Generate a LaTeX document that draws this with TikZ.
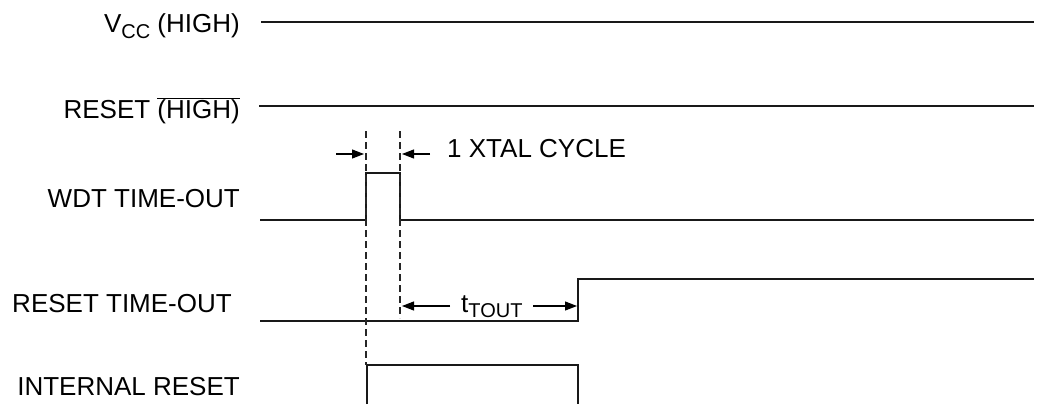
\documentclass[tikz,border=0pt]{standalone}
\usepackage{fontspec}
\setmainfont{Liberation Sans}
\usetikzlibrary{arrows.meta}
\begin{document}
\begin{tikzpicture}[x=1pt,y=-1pt,
  lbl/.style={inner sep=0pt,anchor=base east,font=\fontsize{26}{28}\selectfont},
  sig/.style={line width=1.8pt,line join=miter,draw=black!90},
  guide/.style={line width=1.2pt,dash pattern=on 7pt off 4pt,draw=black!85},
  dim/.style={line width=1.1pt,-{Triangle[length=12pt,width=9pt]}}]
\useasboundingbox (0,0) rectangle (1038,404);
% labels
\node[lbl] (vcc) at (240,33) {V\raisebox{-0.2em}{\fontsize{20}{21}\selectfont CC} (HIGH)};
\node[lbl] (rst) at (240,118) {RESET $\overline{\mbox{(HIGH)}}$};
\node[lbl] (wdt) at (240,207) {WDT TIME-OUT};
\node[lbl] (rto) at (232,312) {RESET TIME-OUT};
\node[lbl] (irs) at (240,395) {INTERNAL RESET};
% signals
\coordinate (v0) at (261,22); \coordinate (v1) at (1034,22);
\draw[sig] (v0) -- (v1);
\coordinate (r0) at (259,106); \coordinate (r1) at (1034,106);
\draw[sig] (r0) -- (r1);
\coordinate (w0) at (260,220); \coordinate (w1) at (366,220); \coordinate (w2) at (366,173);
\coordinate (w3) at (400,173); \coordinate (w4) at (400,220); \coordinate (w5) at (1034,220);
\draw[sig] (w0) -- (w1) -- (w2) -- (w3) -- (w4) -- (w5);
\coordinate (t0) at (260,321); \coordinate (t1) at (578,321); \coordinate (t2) at (578,279); \coordinate (t3) at (1034,279);
\draw[sig] (t0) -- (t1) -- (t2) -- (t3);
\coordinate (i0) at (367,404); \coordinate (i1) at (367,365); \coordinate (i2) at (578,365); \coordinate (i3) at (578,404);
\draw[sig] (i0) -- (i1) -- (i2) -- (i3);
% guides
\coordinate (g1a) at (366,131); \coordinate (g1b) at (366,365);
\coordinate (g2a) at (400,131); \coordinate (g2b) at (400,318);
\draw[guide] (g1a) -- (g1b);
\draw[guide] (g2a) -- (g2b);
% 1 XTAL CYCLE
\coordinate (a1s) at (336,154); \coordinate (a1e) at (364,154);
\coordinate (a2s) at (430,154); \coordinate (a2e) at (402,154);
\draw[dim] (a1s) -- (a1e);
\draw[dim] (a2s) -- (a2e);
\node[inner sep=0pt,anchor=base west,font=\fontsize{26}{28}\selectfont] (xtal) at (447,157) {1 XTAL CYCLE};
% tTOUT
\node[inner sep=0pt,anchor=base west,font=\fontsize{26}{28}\selectfont] (tout) at (461,312) {t\raisebox{-0.22em}{\fontsize{20}{21}\selectfont TOUT}};
\coordinate (b1s) at (450,306); \coordinate (b1e) at (402,306);
\coordinate (b2s) at (533,306); \coordinate (b2e) at (577,306);
\draw[dim] (b1s) -- (b1e);
\draw[dim] (b2s) -- (b2e);
\end{tikzpicture}
\end{document}
